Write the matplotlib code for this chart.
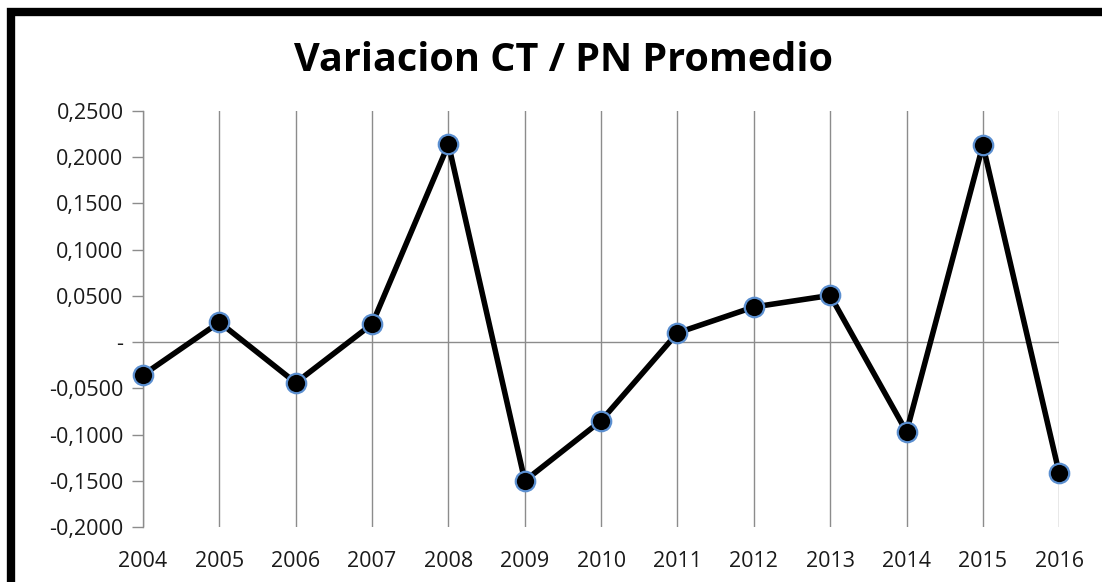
import numpy as np
import matplotlib.pyplot as plt
from matplotlib.patches import Rectangle

# valores
years = [2004, 2005, 2006, 2007, 2008, 2009, 2010, 2011, 2012, 2013, 2014, 2015, 2016]
variacion = [-0.0355, 0.0215, -0.044, 0.0195, 0.214, -0.150, -0.085, 0.010, 0.038, 0.0505, -0.097, 0.213, -0.142]
yticks = [-0.20, -0.15, -0.10, -0.05, 0.0, 0.05, 0.10, 0.15, 0.20, 0.25]

plt.rcParams['font.family'] = ['Open Sans', 'DejaVu Sans']

fig = plt.figure(figsize=(11.02, 5.82), dpi=100)
ax = fig.add_axes([0.1298, 0.0945, 0.8314, 0.7148])

# marco negro grueso (se sale por derecha y abajo)
fig.patches.append(Rectangle((11 / 1102, -0.2), 1.2, 1.2 - 11.5 / 582,
                             transform=fig.transFigure, fill=False,
                             edgecolor='black', linewidth=6, zorder=0))

gris = '#8c8c8c'
for yr in years:
    ax.axvline(yr, color=gris, linewidth=1, zorder=1)
ax.axhline(0, color=gris, linewidth=1, zorder=1)

ax.plot(years, variacion, color='black', linewidth=4, zorder=3, clip_on=False,
        marker='o', markersize=14, markerfacecolor='black',
        markeredgecolor='#5b8fd0', markeredgewidth=1.6)

ax.set_xlim(years[0], years[-1])
ax.set_ylim(-0.2, 0.25)
ax.set_xticks(years)
ax.set_xticklabels([str(y) for y in years], fontsize=15.5)
ax.set_yticks(yticks)


def fmt(v):
    if abs(v) < 1e-9:
        return '-'
    return f"{v:.4f}".replace('.', ',')


ax.set_yticklabels([fmt(v) for v in yticks], fontsize=15.5)

for s in ['top', 'right', 'bottom']:
    ax.spines[s].set_visible(False)
ax.spines['left'].set_color(gris)
ax.spines['left'].set_linewidth(1)
ax.spines['left'].set_zorder(1)
ax.tick_params(axis='y', direction='out', length=8, color=gris, width=1, pad=6, labelcolor='#1a1a1a')
ax.tick_params(axis='x', length=0, pad=17, labelcolor='#1a1a1a')

fig.text(0.511, 0.896, 'Variacion CT / PN Promedio', ha='center', va='center',
         fontsize=28.5, fontweight='bold', color='black')

fig.savefig('out.png', dpi=100, facecolor='white')
